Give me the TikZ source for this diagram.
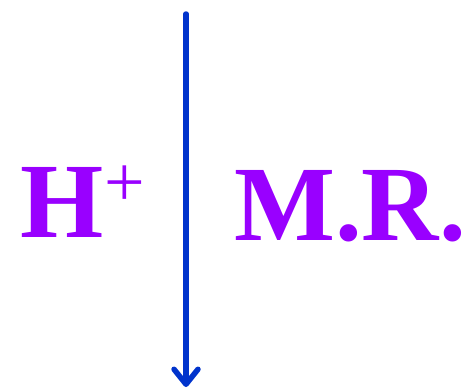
\documentclass[tikz,border=0pt]{standalone}
\usepackage{fontspec}
\setmainfont{Liberation Serif}
\usetikzlibrary{arrows.meta}
\definecolor{txtpurple}{HTML}{9900FF}
\definecolor{arrblue}{HTML}{0033CC}
\tikzset{
  bigtxt/.style={inner sep=0pt, text=txtpurple, font=\fontsize{107}{107}\selectfont\bfseries},
  plustxt/.style={inner sep=0pt, text=txtpurple, font=\fontsize{72}{72}\selectfont},
  mainarrow/.style={draw=arrblue, line width=5.5pt, line cap=round, line join=round,
    -{Straight Barb[length=15pt, width=24pt, line cap=round, line join=round]}}
}
\begin{document}
\begin{tikzpicture}[x=1pt,y=1pt]
\useasboundingbox (0,0) rectangle (470,-391);
\node[bigtxt, anchor=base west] (h) at (20.5,-237) {H};
\node[plustxt, anchor=center] (plus) at (124.5,-186) {+};
\node[bigtxt, anchor=base west] (mr) at (234,-240) {M.R.};
\coordinate (top) at (186,-14);
\coordinate (bot) at (186,-387);
\draw[mainarrow] (top) -- (bot);
\end{tikzpicture}
\end{document}
